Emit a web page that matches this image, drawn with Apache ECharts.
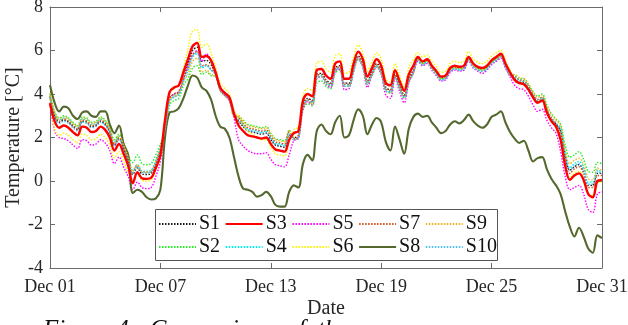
<!DOCTYPE html>
<html>
<head>
<meta charset="utf-8">
<script src="https://cdn.jsdelivr.net/npm/echarts@6/dist/echarts.min.js"></script>
<style>
  html, body { margin: 0; padding: 0; background: #fff; }
  #chart { width: 628px; height: 325px; }
</style>
</head>
<body>
<div id="chart"></div>
<script>
// time axis: days since Dec 01 00:00, sampled every 6 h
const days = [];
for (let i = 0; i <= 120; i++) days.push(i / 4);

const dayTickLabels = ['Dec 01', 'Dec 07', 'Dec 13', 'Dec 19', 'Dec 25', 'Dec 31'];
const seriesNames = ['S1', 'S2', 'S3', 'S4', 'S5', 'S6', 'S7', 'S8', 'S9', 'S10'];

// temperatures [°C]
const s1 = [3.85, 3.0, 2.7, 2.8, 2.7, 2.5, 2.35, 2.75, 2.7, 2.5,
  2.55, 2.75, 2.6, 2.25, 1.65, 1.95, 1.5, 0.95, 0.3, 0.6,
  0.32, 0.3, 0.35, 0.8, 1.4, 2.5, 3.8, 4.0, 4.1, 4.7,
  5.4, 6.0, 6.15, 5.5, 5.55, 5.35, 4.9, 4.2, 3.95, 3.75,
  3.0, 2.75, 2.5, 2.3, 2.25, 2.2, 2.15, 2.2, 1.9, 1.65,
  1.6, 1.55, 2.1, 2.0, 2.1, 3.5, 3.8, 3.7, 4.9, 4.95,
  4.65, 4.5, 5.2, 5.3, 4.5, 4.5, 5.2, 5.75, 5.4, 4.6,
  5.0, 5.4, 5.1, 4.3, 4.2, 4.9, 4.4, 3.95, 4.7, 5.1,
  5.65, 5.45, 5.55, 5.25, 5.0, 4.75, 4.8, 5.15, 5.25, 5.2,
  5.25, 5.65, 5.35, 5.2, 5.15, 5.25, 5.5, 5.65, 5.8, 5.35,
  4.95, 4.7, 4.55, 4.5, 4.25, 3.9, 3.65, 3.75, 3.2, 2.8,
  2.6, 2.3, 1.2, 0.5, 0.65, 0.75, 0.45, -0.2, -0.2, 0.35, 0.35];
const s2 = [4.0, 3.2, 2.9, 3.0, 2.9, 2.7, 2.55, 2.95, 2.9, 2.7,
  2.75, 2.95, 2.8, 2.45, 1.9, 2.15, 1.75, 1.2, 0.85, 1.2,
  0.8, 0.75, 0.8, 1.2, 1.7, 2.2, 3.5, 3.7, 3.8, 4.4,
  4.7, 5.2, 5.3, 4.9, 5.0, 4.85, 4.8, 4.15, 3.95, 3.7,
  3.0, 2.95, 2.8, 2.6, 2.55, 2.5, 2.45, 2.5, 2.2, 1.95,
  1.9, 1.85, 2.35, 1.95, 2.0, 3.25, 3.55, 3.45, 4.5, 4.6,
  4.35, 4.25, 4.95, 5.1, 4.35, 4.35, 5.05, 5.6, 5.25, 4.45,
  4.85, 5.25, 4.95, 4.15, 4.05, 4.75, 4.25, 3.85, 4.6, 5.0,
  5.6, 5.4, 5.5, 5.2, 4.95, 4.7, 4.75, 5.1, 5.2, 5.15,
  5.2, 5.6, 5.3, 5.15, 5.1, 5.2, 5.45, 5.6, 5.75, 5.3,
  4.95, 4.85, 4.7, 4.7, 4.45, 4.1, 3.9, 4.0, 3.5, 3.1,
  2.85, 2.6, 1.65, 1.1, 1.2, 1.35, 1.0, 0.45, 0.4, 0.85, 0.8];
const s3 = [3.57, 2.75, 2.45, 2.55, 2.45, 2.25, 2.1, 2.5, 2.45, 2.25,
  2.3, 2.5, 2.35, 2.0, 1.4, 1.7, 1.25, 0.7, -0.1, 0.4,
  0.12, 0.1, 0.15, 0.6, 1.2, 2.8, 4.1, 4.3, 4.4, 5.0,
  5.6, 6.2, 6.35, 5.7, 5.75, 5.55, 5.0, 4.3, 4.05, 3.85,
  3.1, 2.55, 2.3, 2.1, 2.05, 2.0, 1.95, 2.0, 1.7, 1.45,
  1.4, 1.35, 1.9, 2.2, 2.3, 3.7, 4.0, 3.9, 5.1, 5.15,
  4.85, 4.7, 5.4, 5.5, 4.7, 4.7, 5.4, 5.95, 5.6, 4.8,
  5.2, 5.6, 5.3, 4.5, 4.4, 5.1, 4.6, 4.15, 4.9, 5.3,
  5.7, 5.5, 5.6, 5.3, 5.05, 4.8, 4.85, 5.2, 5.3, 5.25,
  5.3, 5.7, 5.4, 5.25, 5.2, 5.3, 5.55, 5.7, 5.85, 5.4,
  5.0, 4.65, 4.5, 4.45, 4.2, 3.85, 3.6, 3.7, 3.15, 2.75,
  2.5, 1.9, 0.7, 0.05, 0.25, 0.35, 0.05, -0.6, -0.75, 0.0, 0.05];
const s4 = [3.9, 3.1, 2.8, 2.9, 2.8, 2.6, 2.45, 2.85, 2.8, 2.6,
  2.65, 2.85, 2.7, 2.35, 1.75, 2.05, 1.6, 1.05, 0.5, 0.75,
  0.47, 0.45, 0.5, 0.95, 1.55, 2.4, 3.7, 3.9, 4.0, 4.6,
  5.1, 5.7, 5.85, 5.2, 5.3, 5.1, 4.9, 4.2, 3.95, 3.75,
  3.0, 2.85, 2.6, 2.4, 2.35, 2.3, 2.25, 2.3, 2.0, 1.75,
  1.7, 1.65, 2.2, 1.9, 2.0, 3.4, 3.7, 3.6, 4.8, 4.85,
  4.55, 4.4, 5.1, 5.2, 4.4, 4.4, 5.1, 5.65, 5.3, 4.5,
  4.9, 5.3, 5.0, 4.2, 4.1, 4.8, 4.3, 3.85, 4.6, 5.0,
  5.55, 5.35, 5.45, 5.15, 4.9, 4.65, 4.7, 5.05, 5.15, 5.1,
  5.15, 5.55, 5.25, 5.1, 5.05, 5.15, 5.4, 5.55, 5.7, 5.25,
  4.85, 4.8, 4.65, 4.6, 4.35, 4.0, 3.75, 3.85, 3.3, 2.9,
  2.65, 2.45, 1.25, 0.6, 0.8, 0.9, 0.6, -0.05, -0.05, 0.5, 0.4];
const s5 = [3.6, 2.3, 2.0, 1.95, 1.85, 1.65, 1.5, 1.9, 1.85, 1.65,
  1.7, 1.9, 1.75, 1.4, 0.8, 1.1, 0.65, 0.2, -0.4, -0.05,
  -0.3, -0.35, -0.3, 0.2, 0.9, 2.5, 3.8, 4.0, 4.1, 4.7,
  5.3, 5.8, 6.0, 5.5, 5.85, 5.55, 4.9, 4.2, 3.95, 3.7,
  2.9, 1.9, 1.6, 1.4, 1.3, 1.25, 1.25, 1.3, 1.0, 0.75,
  0.7, 0.65, 1.2, 1.85, 1.95, 3.3, 3.65, 3.5, 4.7, 4.8,
  4.45, 4.3, 5.05, 5.15, 4.2, 4.25, 5.05, 5.6, 5.25, 4.3,
  4.85, 5.25, 4.9, 3.95, 3.8, 4.7, 4.1, 3.6, 4.5, 5.0,
  5.5, 5.3, 5.4, 5.1, 4.85, 4.6, 4.65, 5.0, 5.1, 5.05,
  5.1, 5.5, 5.2, 5.05, 4.95, 5.1, 5.35, 5.5, 5.65, 5.2,
  4.8, 4.4, 4.25, 4.2, 3.9, 3.5, 3.2, 3.3, 2.8, 2.45,
  2.2, 1.35, 0.2, -0.4, -0.3, -0.2, -0.6, -1.3, -1.45, -0.6, -0.5];
const s6 = [3.75, 2.4, 2.1, 2.2, 2.1, 1.9, 1.75, 2.15, 2.1, 1.9,
  1.95, 2.15, 2.0, 1.65, 1.05, 1.35, 0.9, 0.4, 0.0, 0.35,
  0.05, 0.0, 0.05, 0.5, 1.15, 2.7, 4.0, 4.25, 4.4, 5.2,
  6.1, 6.9, 6.95, 6.15, 6.3, 5.9, 5.2, 4.5, 4.25, 4.0,
  3.25, 2.95, 2.6, 2.3, 2.15, 2.0, 1.9, 1.9, 1.55, 1.25,
  1.2, 1.15, 1.85, 2.35, 2.5, 3.9, 4.25, 4.15, 5.45, 5.5,
  5.15, 5.0, 5.75, 5.85, 4.95, 5.0, 5.7, 6.25, 5.9, 5.05,
  5.5, 5.9, 5.6, 4.7, 4.55, 5.4, 4.85, 4.3, 5.2, 5.6,
  5.9, 5.7, 5.8, 5.5, 5.25, 5.0, 5.05, 5.4, 5.5, 5.45,
  5.5, 5.95, 5.6, 5.45, 5.4, 5.5, 5.75, 5.9, 6.0, 5.55,
  5.1, 4.7, 4.55, 4.5, 4.25, 3.9, 3.65, 3.75, 3.2, 2.8,
  2.55, 2.0, 0.8, 0.15, 0.35, 0.45, 0.1, -0.6, -0.65, -0.1, -0.05];
const s7 = [3.9, 3.05, 2.75, 2.85, 2.75, 2.55, 2.4, 2.8, 2.75, 2.55,
  2.6, 2.8, 2.65, 2.3, 1.7, 2.0, 1.55, 1.0, 0.4, 0.7,
  0.42, 0.4, 0.45, 0.9, 1.5, 2.5, 3.8, 4.0, 4.1, 4.7,
  5.2, 5.8, 5.95, 5.3, 5.35, 5.15, 4.9, 4.2, 3.95, 3.75,
  3.05, 2.9, 2.65, 2.45, 2.4, 2.35, 2.3, 2.35, 2.05, 1.8,
  1.75, 1.7, 2.25, 1.95, 2.05, 3.45, 3.75, 3.65, 4.85, 4.9,
  4.6, 4.45, 5.15, 5.25, 4.45, 4.45, 5.15, 5.7, 5.35, 4.55,
  4.95, 5.35, 5.05, 4.25, 4.15, 4.85, 4.35, 3.9, 4.65, 5.05,
  5.7, 5.5, 5.6, 5.3, 5.05, 4.8, 4.85, 5.2, 5.3, 5.25,
  5.3, 5.7, 5.4, 5.25, 5.2, 5.3, 5.55, 5.7, 5.85, 5.4,
  5.0, 4.8, 4.65, 4.6, 4.35, 4.0, 3.75, 3.85, 3.3, 2.9,
  2.65, 2.2, 1.0, 0.35, 0.55, 0.65, 0.35, -0.3, -0.3, 0.25, 0.25];
const s8 = [4.41, 3.6, 3.2, 3.42, 3.35, 3.0, 2.85, 3.15, 3.2, 3.0,
  2.95, 3.2, 3.2, 2.6, 2.2, 2.55, 1.7, 1.2, -0.55, -0.4,
  -0.5, -0.75, -0.85, -0.8, -0.4, 2.0, 3.15, 3.2, 3.35, 3.8,
  4.4, 4.85, 4.75, 4.3, 4.15, 3.75, 3.0, 2.5, 2.4, 2.0,
  1.1, 0.2, -0.35, -0.4, -0.5, -0.72, -0.65, -0.5, -0.7, -1.1,
  -1.18, -1.18, -0.5, -0.2, -0.3, 0.8, 1.2, 0.95, 2.3, 2.6,
  2.3, 2.15, 2.7, 3.0, 2.0, 2.1, 2.8, 3.3, 3.0, 2.15,
  2.6, 2.9, 2.7, 1.8, 1.4, 2.5, 1.9, 1.25, 2.4, 2.95,
  3.1, 2.95, 3.0, 2.7, 2.45, 2.2, 2.3, 2.6, 2.75, 2.65,
  2.8, 3.05, 2.75, 2.55, 2.45, 2.6, 2.95, 3.05, 3.2, 2.7,
  2.25, 1.95, 1.75, 1.85, 1.4, 0.9, 1.05, 1.1, 0.55, 0.1,
  -0.2, -0.6, -1.4, -2.1, -2.55, -2.15, -2.55, -3.1, -3.3, -2.5, -2.63];
const s9 = [4.05, 3.15, 2.85, 2.95, 2.85, 2.65, 2.5, 2.9, 2.85, 2.65,
  2.7, 2.9, 2.75, 2.4, 1.8, 2.1, 1.65, 1.1, 0.45, 0.75,
  0.42, 0.4, 0.45, 0.9, 1.5, 2.4, 3.7, 3.9, 4.0, 4.6,
  4.9, 5.5, 5.65, 5.0, 5.1, 4.9, 4.85, 4.15, 3.9, 3.7,
  3.0, 3.0, 2.75, 2.55, 2.5, 2.45, 2.4, 2.45, 2.15, 1.9,
  1.85, 1.8, 2.3, 1.9, 2.0, 3.35, 3.65, 3.55, 4.75, 4.8,
  4.5, 4.35, 5.05, 5.15, 4.35, 4.35, 5.05, 5.6, 5.25, 4.45,
  4.85, 5.25, 4.95, 4.15, 4.05, 4.75, 4.25, 3.8, 4.55, 4.95,
  5.6, 5.4, 5.5, 5.2, 4.95, 4.7, 4.75, 5.1, 5.2, 5.15,
  5.2, 5.6, 5.3, 5.15, 5.1, 5.2, 5.45, 5.6, 5.75, 5.3,
  4.9, 4.9, 4.75, 4.7, 4.45, 4.1, 3.85, 3.95, 3.4, 3.05,
  2.8, 2.55, 1.45, 0.8, 0.95, 1.05, 0.75, 0.1, 0.05, 0.6, 0.45];
const s10 = [3.8, 2.95, 2.65, 2.75, 2.65, 2.45, 2.3, 2.7, 2.65, 2.45,
  2.5, 2.7, 2.55, 2.2, 1.6, 1.9, 1.45, 0.9, 0.35, 0.65,
  0.4, 0.38, 0.42, 0.85, 1.45, 2.35, 3.65, 3.85, 3.95, 4.55,
  5.15, 5.75, 5.9, 5.25, 5.3, 5.1, 4.9, 4.2, 3.95, 3.75,
  3.0, 2.8, 2.55, 2.35, 2.3, 2.25, 2.2, 2.25, 1.95, 1.7,
  1.65, 1.6, 2.15, 1.9, 2.0, 3.4, 3.7, 3.6, 4.75, 4.8,
  4.5, 4.35, 5.05, 5.15, 4.35, 4.35, 5.05, 5.6, 5.25, 4.45,
  4.85, 5.25, 4.95, 4.15, 4.05, 4.75, 4.25, 3.8, 4.55, 4.95,
  5.55, 5.35, 5.45, 5.15, 4.9, 4.65, 4.7, 5.05, 5.15, 5.1,
  5.15, 5.55, 5.25, 5.1, 5.05, 5.15, 5.4, 5.55, 5.7, 5.25,
  4.85, 4.75, 4.6, 4.55, 4.3, 3.95, 3.7, 3.8, 3.25, 2.85,
  2.6, 2.35, 1.15, 0.5, 0.7, 0.8, 0.5, -0.15, -0.15, 0.45, 0.3];

const allValues = [s1, s2, s3, s4, s5, s6, s7, s8, s9, s10];

const colors = ['#1a1a1a', '#22ee22', '#ff0000', '#00eeee', '#ff00ff',
                '#f5f500', '#d95319', '#55692f', '#edb120', '#4dbeee'];

const font = '"Liberation Serif", "Times New Roman", serif';
const chart = echarts.init(document.getElementById('chart'));

const series = seriesNames.map((name, k) => {
  const solid = name === 'S3' || name === 'S8';
  return {
    name: name,
    type: 'line',
    data: days.map((d, i) => [d, allValues[k][i]]),
    symbol: 'none',
    smooth: 0.35,
    z: name === 'S3' ? 4 : 2,
    lineStyle: {
      color: colors[k],
      width: name === 'S3' ? 2.4 : (solid ? 2.1 : 1.4),
      type: solid ? 'solid' : [1.5, 1.5]
    },
    itemStyle: { color: colors[k] }
  };
});

// legend: 5 columns x 2 rows
const legendCols = [['S1', 'S2'], ['S3', 'S4'], ['S5', 'S6'], ['S7', 'S8'], ['S9', 'S10']];
const legends = legendCols.map((items, c) => ({
  data: items,
  orient: 'vertical',
  left: 158 + c * 66.7,
  top: 214,
  padding: 0,
  itemGap: 3,
  itemWidth: 37,
  itemHeight: 12,
  selectedMode: false,
  itemStyle: { opacity: 0 },
  textStyle: { fontFamily: font, fontSize: 20, color: '#111', lineHeight: 20, padding: [0, 0, 0, -2] }
}));

const axisColor = '#6b6b6b';
const labelColor = '#262626';

chart.setOption({
  animation: false,
  grid: { left: 50, right: 26, top: 7, bottom: 57, outerBoundsMode: 'none', containLabel: false },
  legend: legends,
  xAxis: [{
    type: 'value', min: 0, max: 30, interval: 6,
    name: 'Date', nameLocation: 'middle', nameGap: 31, nameMoveOverlap: false,
    nameTextStyle: { fontFamily: font, fontSize: 20, color: labelColor },
    axisLine: { onZero: false, lineStyle: { color: axisColor, width: 1 } },
    axisTick: { inside: true, length: 5, lineStyle: { color: axisColor } },
    axisLabel: {
      fontFamily: font, fontSize: 18, color: labelColor, margin: 10,
      formatter: v => dayTickLabels[Math.round(v / 6)]
    },
    splitLine: { show: false }
  }, {
    type: 'value', min: 0, max: 30, interval: 6, position: 'top',
    axisLine: { onZero: false, lineStyle: { color: axisColor } },
    axisTick: { inside: true, length: 5, lineStyle: { color: axisColor } },
    axisLabel: { show: false },
    splitLine: { show: false }
  }],
  yAxis: [{
    type: 'value', min: -4, max: 8, interval: 2,
    name: 'Temperature [°C]', nameLocation: 'middle', nameGap: 26, nameMoveOverlap: false,
    nameTextStyle: { fontFamily: font, fontSize: 20, color: labelColor },
    axisLine: { show: true, onZero: false, lineStyle: { color: axisColor } },
    axisTick: { show: true, inside: true, length: 5, lineStyle: { color: axisColor } },
    axisLabel: { fontFamily: font, fontSize: 18, color: labelColor, margin: 7 },
    splitLine: { show: false }
  }, {
    type: 'value', min: -4, max: 8, interval: 2, position: 'right',
    axisLine: { show: true, onZero: false, lineStyle: { color: axisColor } },
    axisTick: { show: true, inside: true, length: 5, lineStyle: { color: axisColor } },
    axisLabel: { show: false },
    splitLine: { show: false }
  }],
  graphic: [{
    type: 'rect', z: 3,
    shape: { x: 155.5, y: 209.5, width: 342, height: 51 },
    style: { fill: '#fff', stroke: '#555', lineWidth: 1 }
  }, {
    type: 'text', left: 43, top: 318, z: 5,
    style: {
      text: 'Figure 4:  Comparison  of  the',
      font: 'italic 25px "Liberation Serif", serif',
      fill: '#111'
    }
  }],
  series: series
});
</script>
</body>
</html>
